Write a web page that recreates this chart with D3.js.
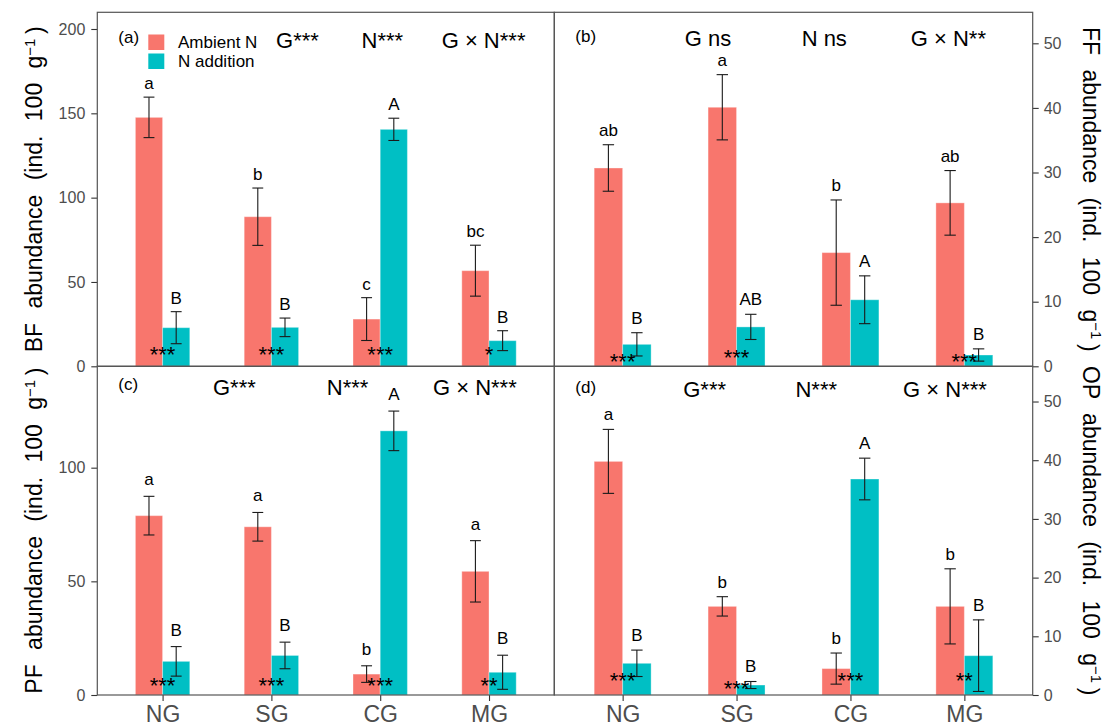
<!DOCTYPE html>
<html>
<head>
<meta charset="utf-8">
<script src="https://cdn.jsdelivr.net/npm/d3@7"></script>
<style>
  body { margin: 0; background: #fff; }
  svg { display: block; font-family: "Liberation Sans", Arial, Helvetica, sans-serif; }
</style>
</head>
<body>
<svg id="chart" width="1110" height="727"></svg>
<script>
// ---- data -------------------------------------------------------------
const grasslands = ["NG", "SG", "CG", "MG"];
const treatments = ["Ambient N", "N addition"];

// (a) bacterial-feeding nematodes
const bfAmbient      = [147.6, 88.7, 28.0, 56.7];
const bfAmbientSE    = [12.0, 17.0, 12.7, 15.1];
const bfAdded        = [22.9, 23.1, 140.5, 15.2];
const bfAddedSE      = [9.5, 5.5, 6.6, 5.9];
const bfAmbientGroup = ["a", "b", "c", "bc"];
const bfAddedGroup   = ["B", "B", "A", "B"];
const bfPairSig      = ["***", "***", "***", "*"];
const bfPairSigAt    = [10.3, 10.3, 10.3, 10.3];
const bfEffects      = ["G***", "N***", "G × N***"];
const bfTicks        = [0, 50, 100, 150, 200];

// (b) fungal-feeding nematodes
const ffAmbient      = [30.7, 40.1, 17.6, 25.3];
const ffAmbientSE    = [3.6, 5.05, 8.15, 5.0];
const ffAdded        = [3.4, 6.1, 10.3, 1.75];
const ffAddedSE      = [1.8, 1.95, 3.7, 0.95];
const ffAmbientGroup = ["ab", "a", "b", "ab"];
const ffAddedGroup   = ["B", "AB", "A", "B"];
const ffPairSig      = ["***", "***", "", "***"];
const ffPairSigAt    = [1.6, 2.2, 1.6, 1.5];
const ffEffects      = ["G ns", "N ns", "G × N**"];
const ffTicks        = [0, 10, 20, 30, 40, 50];

// (c) plant-feeding nematodes
const pfAmbient      = [78.9, 74.0, 9.2, 54.4];
const pfAmbientSE    = [8.5, 6.3, 3.65, 13.5];
const pfAdded        = [14.8, 17.4, 116.2, 10.0];
const pfAddedSE      = [6.5, 5.85, 8.7, 7.5];
const pfAmbientGroup = ["a", "a", "b", "a"];
const pfAddedGroup   = ["B", "B", "A", "B"];
const pfPairSig      = ["***", "***", "***", "**"];
const pfPairSigAt    = [6.3, 6.3, 6.3, 6.3];
const pfEffects      = ["G***", "N***", "G × N***"];
const pfTicks        = [0, 50, 100];

// (d) omnivorous-predatory nematodes
const opAmbient      = [39.8, 15.1, 4.5, 15.1];
const opAmbientSE    = [5.45, 1.65, 2.65, 6.4];
const opAdded        = [5.4, 1.7, 36.8, 6.7];
const opAddedSE      = [2.25, 0.6, 3.55, 6.1];
const opAmbientGroup = ["a", "b", "b", "b"];
const opAddedGroup   = ["B", "B", "A", "B"];
const opPairSig      = ["***", "***", "***", "**"];
const opPairSigAt    = [3.3, 2.0, 3.3, 3.3];
const opEffects      = ["G***", "N***", "G × N***"];
const opTicks        = [0, 10, 20, 30, 40, 50];

// ---- layout -----------------------------------------------------------
const colors = ["#F8766D", "#00BFC4"];
const edgeLeft = 97.3, edgeMid = 554.3, edgeRight = 1032.7;
const edgeTop = 12.3, edgeHMid = 366.3, edgeBottom = 695;

const panels = [
  { tag: "(a)", group: "BF", x0: edgeLeft, x1: edgeMid, y0: edgeTop, y1: edgeHMid, yMax: 209.9, side: "left", xAxis: false,
    ambient: bfAmbient, ambientSE: bfAmbientSE, added: bfAdded, addedSE: bfAddedSE,
    ambientGroup: bfAmbientGroup, addedGroup: bfAddedGroup, sig: bfPairSig, sigAt: bfPairSigAt,
    effects: bfEffects, ticks: bfTicks, effectPos: [2.24, 3.02, 3.95], effectDy: 35.4, tagDy: 30.7, letterGap: 8, legend: true },
  { tag: "(b)", group: "FF", x0: edgeMid, x1: edgeRight, y0: edgeTop, y1: edgeHMid, yMax: 54.8, side: "right", xAxis: false,
    ambient: ffAmbient, ambientSE: ffAmbientSE, added: ffAdded, addedSE: ffAddedSE,
    ambientGroup: ffAmbientGroup, addedGroup: ffAddedGroup, sig: ffPairSig, sigAt: ffPairSigAt,
    effects: ffEffects, ticks: ffTicks, effectPos: [1.75, 2.77, 3.86], effectDy: 33.7, tagDy: 29.7, letterGap: 9 },
  { tag: "(c)", group: "PF", x0: edgeLeft, x1: edgeMid, y0: edgeHMid, y1: edgeBottom, yMax: 144.6, side: "left", xAxis: true,
    ambient: pfAmbient, ambientSE: pfAmbientSE, added: pfAdded, addedSE: pfAddedSE,
    ambientGroup: pfAmbientGroup, addedGroup: pfAddedGroup, sig: pfPairSig, sigAt: pfPairSigAt,
    effects: pfEffects, ticks: pfTicks, effectPos: [1.66, 2.70, 3.87], effectDy: 28.7, tagDy: 23.7, letterGap: 11 },
  { tag: "(d)", group: "OP", x0: edgeMid, x1: edgeRight, y0: edgeHMid, y1: edgeBottom, yMax: 56.0, side: "right", xAxis: true,
    ambient: opAmbient, ambientSE: opAmbientSE, added: opAdded, addedSE: opAddedSE,
    ambientGroup: opAmbientGroup, addedGroup: opAddedGroup, sig: opPairSig, sigAt: opPairSigAt,
    effects: opEffects, ticks: opTicks, effectPos: [1.72, 2.70, 3.83], effectDy: 30.2, tagDy: 26.7, letterGap: 9 }
];

const svg = d3.select("#chart");

function axisTitle(g, label, x, y, rot) {
  const t = g.append("text")
    .attr("transform", `translate(${x},${y}) rotate(${rot})`)
    .attr("text-anchor", "middle")
    .attr("font-size", 23)
    .attr("fill", "#000")
    .style("word-spacing", "8px");
  t.append("tspan").text(label + " abundance (ind. 100 g");
  t.append("tspan").attr("font-size", 15).attr("dy", "-0.5em").text("\u22121");
  t.append("tspan").attr("dy", "0.38em").text("\u2009)");
}

panels.forEach(p => {
  const g = svg.append("g");
  const x = d3.scalePoint().domain(grasslands).range([p.x0, p.x1]).padding(0.6);
  const step = x.step();
  const pos = u => p.x0 + (u - 0.4) * step;   // continuous discrete-axis position
  const y = d3.scaleLinear().domain([0, p.yMax]).range([p.y1, p.y0]);
  const bw = step * 0.25;
  const cap = step * 0.1;

  const series = [
    { mean: p.ambient, se: p.ambientSE, group: p.ambientGroup, off: -bw, color: colors[0] },
    { mean: p.added,   se: p.addedSE,   group: p.addedGroup,   off: 0,   color: colors[1] }
  ];

  series.forEach(s => {
    const rows = grasslands.map((k, i) => ({ k, m: s.mean[i], se: s.se[i], lab: s.group[i] }));
    const cx = d => x(d.k) + s.off + bw / 2;

    g.selectAll(null).data(rows).join("rect")
      .attr("x", d => x(d.k) + s.off)
      .attr("y", d => y(d.m))
      .attr("width", bw)
      .attr("height", d => y(0) - y(d.m))
      .attr("fill", s.color)
      .attr("stroke", "rgba(255,255,255,0.35)")
      .attr("stroke-width", 1);

    const eb = g.selectAll(null).data(rows).join("g")
      .attr("stroke", "#1a1a1a").attr("stroke-width", 1.1);
    eb.append("line").attr("x1", cx).attr("x2", cx)
      .attr("y1", d => y(d.m + d.se)).attr("y2", d => y(Math.max(0, d.m - d.se)));
    eb.append("line").attr("x1", d => cx(d) - cap / 2).attr("x2", d => cx(d) + cap / 2)
      .attr("y1", d => y(d.m + d.se)).attr("y2", d => y(d.m + d.se));
    eb.append("line").attr("x1", d => cx(d) - cap / 2).attr("x2", d => cx(d) + cap / 2)
      .attr("y1", d => y(Math.max(0, d.m - d.se))).attr("y2", d => y(Math.max(0, d.m - d.se)));

    g.selectAll(null).data(rows).join("text")
      .attr("x", cx)
      .attr("y", d => y(d.m + d.se) - p.letterGap)
      .attr("text-anchor", "middle")
      .attr("font-size", 17)
      .attr("fill", "#000")
      .text(d => d.lab);
  });

  // paired ambient vs. added significance
  g.selectAll(null).data(grasslands.map((k, i) => ({ k, s: p.sig[i], at: p.sigAt[i] })))
    .join("text")
    .attr("x", d => x(d.k))
    .attr("y", d => y(d.at) + 12.8)
    .attr("text-anchor", "middle")
    .attr("font-size", 22)
    .attr("fill", "#000")
    .text(d => d.s);

  // panel tag and two-way ANOVA effects
  g.append("text").attr("x", p.x0 + 21).attr("y", p.y0 + p.tagDy)
    .attr("font-size", 17).attr("fill", "#000").text(p.tag);
  g.selectAll(null).data(p.effects.map((t, i) => ({ t, u: p.effectPos[i] })))
    .join("text")
    .attr("x", d => pos(d.u))
    .attr("y", p.y0 + p.effectDy)
    .attr("text-anchor", "middle")
    .attr("font-size", 22)
    .attr("fill", "#000")
    .text(d => d.t);

  // value axis
  const axis = (p.side === "left" ? d3.axisLeft(y) : d3.axisRight(y))
    .tickValues(p.ticks).tickSize(6).tickPadding(p.side === "left" ? 6 : 5);
  const ag = g.append("g")
    .attr("transform", `translate(${p.side === "left" ? p.x0 : p.x1},0)`)
    .call(axis);
  ag.select(".domain").remove();
  ag.selectAll("line").attr("stroke", "#333").attr("stroke-width", 1.1);
  ag.selectAll("text").attr("font-size", 16).attr("fill", "#4d4d4d")
    .attr("font-family", "Liberation Sans, Arial, sans-serif");

  if (p.xAxis) {
    const xg = g.append("g").attr("transform", `translate(0,${p.y1})`)
      .call(d3.axisBottom(x).tickSize(6).tickPadding(5));
    xg.select(".domain").remove();
    xg.selectAll("line").attr("stroke", "#333").attr("stroke-width", 1.1);
    xg.selectAll("text").attr("font-size", 23).attr("fill", "#4d4d4d")
      .attr("font-family", "Liberation Sans, Arial, sans-serif");
  }

  // axis title
  const cy = (p.y0 + p.y1) / 2;
  if (p.side === "left") axisTitle(svg, p.group, 42, cy, -90);
  else axisTitle(svg, p.group, 1083, cy, 90);

  // legend (first panel only)
  if (p.legend) {
    const lg = g.append("g");
    treatments.forEach((t, i) => {
      lg.append("rect").attr("x", 148.3).attr("y", 34.5 + i * 19)
        .attr("width", 16).attr("height", 15.5).attr("fill", colors[i]);
      lg.append("text").attr("x", 178).attr("y", 47.7 + i * 19)
        .attr("font-size", 17).attr("fill", "#000").text(t);
    });
  }

  // panel border
  g.append("rect").attr("x", p.x0).attr("y", p.y0)
    .attr("width", p.x1 - p.x0).attr("height", p.y1 - p.y0)
    .attr("fill", "none").attr("stroke", "#555").attr("stroke-width", 1.2);
});
</script>
</body>
</html>
